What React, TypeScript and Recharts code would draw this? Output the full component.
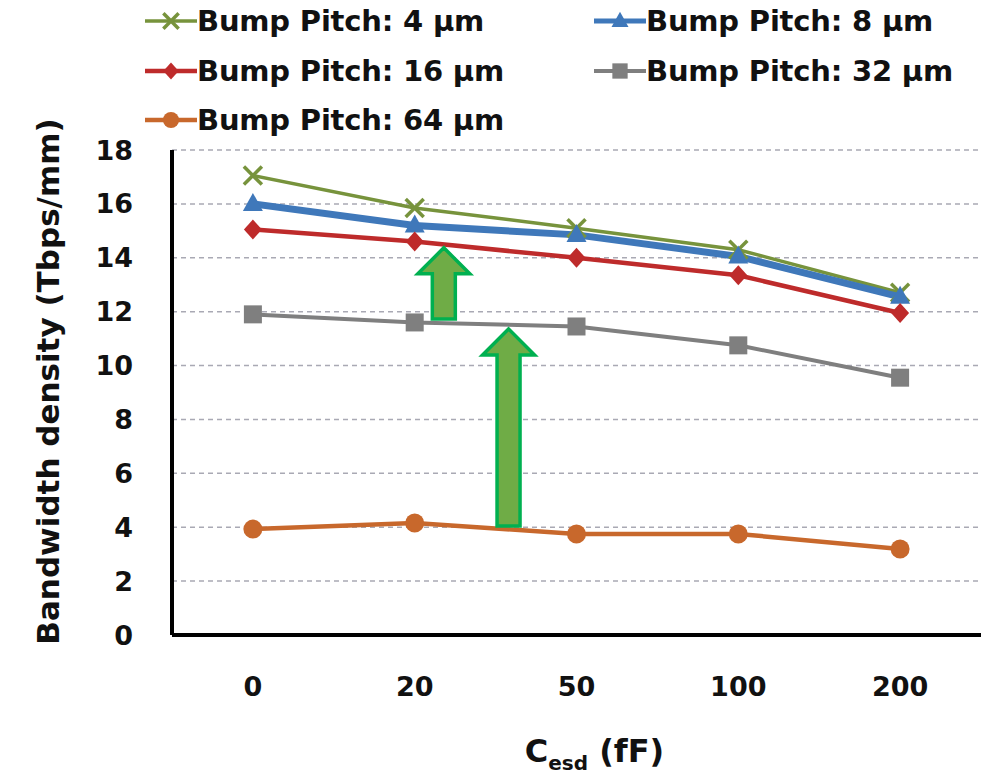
import React from 'react';
import { LineChart, Line, XAxis, YAxis, CartesianGrid, ReferenceLine, Legend } from 'recharts';

const CATEGORIES = ['0', '20', '50', '100', '200'];
const P4 = [17.05, 15.85, 15.1, 14.3, 12.7];
const P8 = [16.0, 15.2, 14.85, 14.05, 12.55];
const P16 = [15.05, 14.6, 14.0, 13.35, 11.95];
const P32 = [11.9, 11.6, 11.45, 10.75, 9.55];
const P64 = [3.93, 4.16, 3.75, 3.75, 3.19];
const Y_TICKS = [0, 2, 4, 6, 8, 10, 12, 14, 16, 18];
const ARROWS = [
  { x: 1.18, from: 11.73, to: 14.37 },
  { x: 1.58, from: 4.05, to: 11.36 },
];

const FONT = "'DejaVu Sans', 'Liberation Sans', sans-serif";

type SeriesCfg = { key: string; name: string; color: string; width: number; marker: string; values: number[] };
const SERIES: SeriesCfg[] = [
  { key: 'p4', name: 'Bump Pitch: 4 µm', color: '#77933C', width: 3.5, marker: 'cross', values: P4 },
  { key: 'p8', name: 'Bump Pitch: 8 µm', color: '#3F78BA', width: 7, marker: 'triangle', values: P8 },
  { key: 'p16', name: 'Bump Pitch: 16 µm', color: '#BE2B2B', width: 4.5, marker: 'diamond', values: P16 },
  { key: 'p32', name: 'Bump Pitch: 32 µm', color: '#7F7F7F', width: 4, marker: 'square', values: P32 },
  { key: 'p64', name: 'Bump Pitch: 64 µm', color: '#C8682C', width: 4.5, marker: 'circle', values: P64 },
];

const data = CATEGORIES.map((c, i) => {
  const row: any = { i, label: c };
  SERIES.forEach((s) => { row[s.key] = s.values[i]; });
  return row;
});

function markerEl(shape: string, color: string, cx: number, cy: number, k: number, key?: string) {
  switch (shape) {
    case 'cross':
      return (
        <g key={key} stroke={color} strokeWidth={3.5}>
          <line x1={cx - 9 * k} y1={cy - 9 * k} x2={cx + 9 * k} y2={cy + 9 * k} />
          <line x1={cx - 9 * k} y1={cy + 9 * k} x2={cx + 9 * k} y2={cy - 9 * k} />
        </g>
      );
    case 'triangle':
      return <polygon key={key} fill={color} points={`${cx},${cy - 11 * k} ${cx + 10 * k},${cy + 7 * k} ${cx - 10 * k},${cy + 7 * k}`} />;
    case 'diamond':
      return <polygon key={key} fill={color} points={`${cx},${cy - 10 * k} ${cx + 9 * k},${cy} ${cx},${cy + 10 * k} ${cx - 9 * k},${cy}`} />;
    case 'square':
      return <rect key={key} fill={color} x={cx - 9 * k} y={cy - 9 * k} width={18 * k} height={18 * k} />;
    default:
      return <circle key={key} fill={color} cx={cx} cy={cy} r={9.5 * k} />;
  }
}

const LEGEND_POS = [
  { left: 145, top: 21 },
  { left: 594, top: 21 },
  { left: 145, top: 71 },
  { left: 594, top: 71 },
  { left: 145, top: 120 },
];

function renderLegend() {
  return (
    <div style={{ position: 'relative', width: 981, height: 145 }}>
      {SERIES.map((s, idx) => (
        <div
          key={s.key}
          style={{
            position: 'absolute',
            left: LEGEND_POS[idx].left,
            top: LEGEND_POS[idx].top - 20,
            height: 40,
            display: 'flex',
            alignItems: 'center',
            whiteSpace: 'nowrap',
          }}
        >
          <svg width={52} height={30} style={{ display: 'block' }}>
            <line x1={0} y1={15} x2={52} y2={15} stroke={s.color} strokeWidth={Math.min(s.width, 5)} />
            {markerEl(s.marker, s.color, 26, 15, 0.85)}
          </svg>
          <span style={{ fontFamily: FONT, fontWeight: 'bold', fontSize: 29, color: '#111', letterSpacing: -0.2 }}>{s.name}</span>
        </div>
      ))}
    </div>
  );
}

function arrowShape(props: any) {
  const { x1, y1, x2, y2 } = props;
  const x = (x1 + x2) / 2;
  const top = Math.min(y1, y2);
  const bottom = Math.max(y1, y2);
  const headH = 26;
  const headW = 26;
  const shaftW = 11.5;
  const pts = [
    [x, top],
    [x + headW, top + headH],
    [x + shaftW, top + headH],
    [x + shaftW, bottom],
    [x - shaftW, bottom],
    [x - shaftW, top + headH],
    [x - headW, top + headH],
  ]
    .map((p) => p.join(','))
    .join(' ');
  return <polygon points={pts} fill="#6FAC46" stroke="#00B050" strokeWidth={3.5} strokeLinejoin="miter" />;
}

export default function App() {
  return (
    <div style={{ position: 'absolute', left: 0, top: 0, width: 981, height: 774, background: '#fff' }}>
      <LineChart width={981} height={774} data={data} margin={{ top: 150, right: 0, bottom: 0, left: 0 }}>
        <CartesianGrid vertical={false} stroke="#A9A9B4" strokeDasharray="5 4" strokeWidth={1.5} />
        <XAxis
          type="number"
          dataKey="i"
          domain={[-0.5, 4.5]}
          ticks={[0, 1, 2, 3, 4]}
          tickFormatter={(v: number) => CATEGORIES[v]}
          height={139}
          tickSize={0}
          tickLine={false}
          tickMargin={42}
          axisLine={{ stroke: '#000', strokeWidth: 4 }}
          tick={{ fill: '#111', fontFamily: FONT, fontWeight: 'bold', fontSize: 27 }}
          label={{
            content: (p: any) => {
              const vb = p.viewBox || {};
              const cx = vb.x + vb.width / 2 + 18;
              const by = vb.y + 127;
              return (
                <text x={cx} y={by} textAnchor="middle" fill="#111" fontFamily={FONT} fontWeight="bold" fontSize={32}>
                  <tspan>C</tspan>
                  <tspan fontSize={20} dy={8}>esd</tspan>
                  <tspan dy={-8}> (fF)</tspan>
                </text>
              );
            },
          }}
        />
        <YAxis
          type="number"
          domain={[0, 18]}
          ticks={Y_TICKS}
          width={172}
          tickSize={0}
          tickLine={false}
          tickMargin={39}
          axisLine={{ stroke: '#000', strokeWidth: 4 }}
          tick={{ fill: '#111', fontFamily: FONT, fontWeight: 'bold', fontSize: 27 }}
          label={{
            content: (p: any) => {
              const vb = p.viewBox || {};
              const x = 59;
              const y = vb.y + vb.height / 2 - 11;
              return (
                <text
                  x={x}
                  y={y}
                  textAnchor="middle"
                  transform={`rotate(-90, ${x}, ${y})`}
                  fill="#111"
                  fontFamily={FONT}
                  fontWeight="bold"
                  fontSize={31}
                >
                  Bandwidth density (Tbps/mm)
                </text>
              );
            },
          }}
        />
        <Legend
          layout="horizontal"
          verticalAlign="middle"
          align="center"
          content={renderLegend}
          wrapperStyle={{ position: 'absolute', top: 0, left: 0, width: 981, height: 145 }}
        />
        {SERIES.map((s) => (
          <Line
            key={s.key}
            type="linear"
            dataKey={s.key}
            name={s.name}
            stroke={s.color}
            strokeWidth={s.width}
            isAnimationActive={false}
            activeDot={false}
            dot={(p: any) => markerEl(s.marker, s.color, p.cx, p.cy, 1, `${s.key}-${p.index}`)}
          />
        ))}
        {ARROWS.map((a, idx) => (
          <ReferenceLine
            key={`arrow-${idx}`}
            segment={[{ x: a.x, y: a.from }, { x: a.x, y: a.to }]}
            shape={arrowShape}
            ifOverflow="visible"
          />
        ))}
      </LineChart>
    </div>
  );
}
